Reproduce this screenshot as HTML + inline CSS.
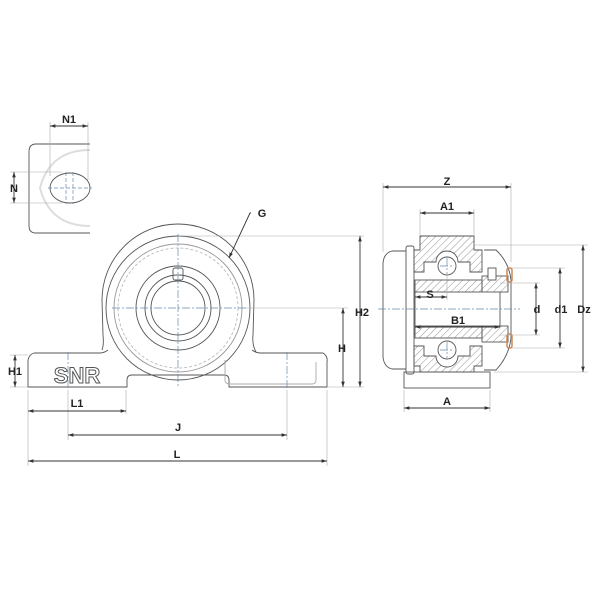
<!DOCTYPE html>
<html><head><meta charset="utf-8"><style>
html,body{margin:0;padding:0;background:#fff;}
svg{display:block}
text{font-family:"Liberation Sans",Arial,sans-serif;font-weight:bold;font-size:11px;fill:#222;text-anchor:middle}
</style></head><body>
<svg width="600" height="600" viewBox="0 0 600 600" xmlns="http://www.w3.org/2000/svg">
<defs>
<pattern id="h" width="5" height="5" patternUnits="userSpaceOnUse" patternTransform="rotate(45)">
<line x1="0" y1="0" x2="0" y2="5" stroke="#777" stroke-width="0.8"/></pattern>
<marker id="a" markerWidth="6" markerHeight="6" refX="6" refY="3" orient="auto-start-reverse"><path d="M0,1 L6,3 L0,5z" fill="#333"/></marker>
</defs>
<g fill="none" stroke="#555" stroke-width="0.9">
<!-- small top view -->
<path d="M90,150 Q50,150 40,188 Q50,226 90,226" stroke="#ddd" stroke-width="2"/>
<path d="M90,144 H36 Q29,144 29,152 V226 Q29,233 36,233 H90"/>
<ellipse cx="70" cy="188" rx="20" ry="15"/>
<g stroke="#68a" stroke-dasharray="4,2" stroke-width="0.7"><line x1="48" y1="188" x2="92" y2="188"/><line x1="66" y1="172" x2="66" y2="204"/><line x1="73" y1="172" x2="73" y2="204"/></g>
<g stroke="#aaa" stroke-width="0.6"><line x1="50" y1="122" x2="50" y2="176"/><line x1="88" y1="122" x2="88" y2="180"/><line x1="10" y1="172" x2="62" y2="172"/><line x1="10" y1="203" x2="62" y2="203"/></g>
<line x1="50" y1="126" x2="88" y2="126" stroke="#333" marker-start="url(#a)" marker-end="url(#a)"/>
<line x1="14" y1="172" x2="14" y2="203" stroke="#333" marker-start="url(#a)" marker-end="url(#a)"/>

<!-- front view -->
<path d="M102,350 Q104,345 103,335 L102,300 A76,76 0 0 1 254,300 L253,335 Q252,345 256,352"/>
<path d="M34,353 H100 Q104,353 108,350 M252,350 Q256,353 260,353 H323 Q328,356 327,362 V387 H229 V380 Q229,375 224,375 H132 Q127,375 127,380 V387 H28 V362 Q28,355 34,353"/>
<circle cx="178" cy="308" r="72"/>
<circle cx="178" cy="308" r="64" stroke="#999"/>
<circle cx="178" cy="308" r="60" stroke="#bbb" stroke-dasharray="3,2"/>
<circle cx="178" cy="308" r="42"/>
<circle cx="178" cy="308" r="33"/>
<circle cx="178" cy="308" r="27"/>
<rect x="173" y="268" width="10" height="12" rx="2"/>
<path d="M225,360 V380 Q225,384 230,384 H312 Q316,384 316,380 V362" stroke="#aaa"/>
<g stroke="#68a" stroke-dasharray="8,2,2,2" stroke-width="0.7"><line x1="178" y1="234" x2="178" y2="388"/><line x1="112" y1="308" x2="246" y2="308"/><line x1="68" y1="352" x2="68" y2="388"/><line x1="287" y1="352" x2="287" y2="388"/></g>
<g stroke="#aaa" stroke-width="0.6">
<line x1="178" y1="236" x2="364" y2="236"/><line x1="246" y1="308" x2="348" y2="308"/><line x1="327" y1="387" x2="364" y2="387"/>
<line x1="10" y1="355" x2="28" y2="355"/><line x1="10" y1="387" x2="28" y2="387"/>
<line x1="28" y1="390" x2="28" y2="466"/><line x1="327" y1="390" x2="327" y2="466"/><line x1="126" y1="390" x2="126" y2="414"/><line x1="68" y1="390" x2="68" y2="440"/><line x1="287" y1="390" x2="287" y2="440"/>
</g>
<g stroke="#333" marker-start="url(#a)" marker-end="url(#a)">
<line x1="360" y1="236" x2="360" y2="387"/><line x1="343" y1="308" x2="343" y2="387"/><line x1="15" y1="355" x2="15" y2="387"/>
<line x1="28" y1="411" x2="126" y2="411"/><line x1="68" y1="435" x2="287" y2="435"/><line x1="28" y1="461" x2="327" y2="461"/>
</g>
<path d="M251,213 H250 L229,258" stroke="#333" marker-end="url(#a)"/>

<!-- side view -->
<path d="M406,251 H392 Q384,253 383,263 V357 Q384,367 392,369 H406" />
<rect x="406" y="246" width="8" height="128" rx="2"/>
<path d="M484,250 H496 Q509,262 511,280 V338 Q509,356 496,370 H484"/>
<rect x="404" y="372" width="86" height="16"/>
<path d="M420,236 H474 V250 H482 V272 H470 V262 H458 A11,11 0 0 0 436,262 H424 V272 H414 V250 H420 Z" fill="url(#h)"/>
<path d="M420,372 H474 V366 H482 V346 H470 V356 H458 A11,11 0 0 1 436,356 H424 V346 H414 V366 H420 Z" fill="url(#h)"/>
<rect x="415" y="280" width="67" height="12" fill="url(#h)"/>
<rect x="415" y="326" width="67" height="12" fill="url(#h)"/>
<rect x="482" y="276" width="26" height="16" fill="url(#h)"/>
<rect x="482" y="326" width="26" height="16" fill="url(#h)"/>
<line x1="415" y1="292" x2="415" y2="326"/><line x1="500" y1="292" x2="500" y2="326"/>
<circle cx="447" cy="266" r="9" fill="#fff"/>
<circle cx="447" cy="350" r="9" fill="#fff"/>
<rect x="488" y="268" width="8" height="12" fill="#fff"/>
<g stroke="#c85" stroke-width="1.5"><rect x="507" y="268" width="5" height="14" rx="2"/><rect x="507" y="334" width="5" height="14" rx="2"/></g>
<g stroke="#68a" stroke-dasharray="8,2,2,2" stroke-width="0.7"><line x1="378" y1="309" x2="520" y2="309"/><line x1="447" y1="258" x2="447" y2="274"/><line x1="447" y1="342" x2="447" y2="358"/><line x1="440" y1="266" x2="454" y2="266"/><line x1="440" y1="350" x2="454" y2="350"/></g>
<g stroke="#aaa" stroke-width="0.6">
<line x1="383" y1="183" x2="383" y2="252"/><line x1="511" y1="183" x2="511" y2="262"/><line x1="420" y1="209" x2="420" y2="236"/><line x1="474" y1="209" x2="474" y2="236"/>
<line x1="474" y1="245" x2="588" y2="245"/><line x1="494" y1="372" x2="588" y2="372"/>
<line x1="512" y1="268" x2="565" y2="268"/><line x1="512" y1="348" x2="565" y2="348"/><line x1="500" y1="283" x2="540" y2="283"/><line x1="500" y1="335" x2="540" y2="335"/>
<line x1="404" y1="390" x2="404" y2="412"/><line x1="490" y1="390" x2="490" y2="412"/>
<line x1="447" y1="276" x2="447" y2="300"/>
</g>
<g stroke="#333" marker-start="url(#a)" marker-end="url(#a)">
<line x1="383" y1="187" x2="511" y2="187"/><line x1="420" y1="213" x2="474" y2="213"/>
<line x1="583" y1="245" x2="583" y2="372"/><line x1="560" y1="268" x2="560" y2="348"/><line x1="536" y1="283" x2="536" y2="335"/>
<line x1="415" y1="297" x2="447" y2="297"/><line x1="415" y1="327" x2="500" y2="327"/><line x1="404" y1="408" x2="490" y2="408"/>
</g>
</g>
<g>
<text x="69" y="123">N1</text><text x="14" y="192">N</text>
<text x="262" y="217">G</text><text x="362" y="316">H2</text><text x="342" y="352">H</text><text x="15" y="375">H1</text>
<text x="77" y="407">L1</text><text x="178" y="431">J</text><text x="177" y="458">L</text>
<text x="447" y="185">Z</text><text x="447" y="210">A1</text><text x="430" y="298">S</text><text x="458" y="324">B1</text>
<text x="537" y="313">d</text><text x="561" y="313">d1</text><text x="584" y="313">Dz</text><text x="447" y="405">A</text>
<text x="77" y="383" style="font-size:22px;fill:#fff;stroke:#555;stroke-width:1">SNR</text>
</g>
</svg>
</body></html>
